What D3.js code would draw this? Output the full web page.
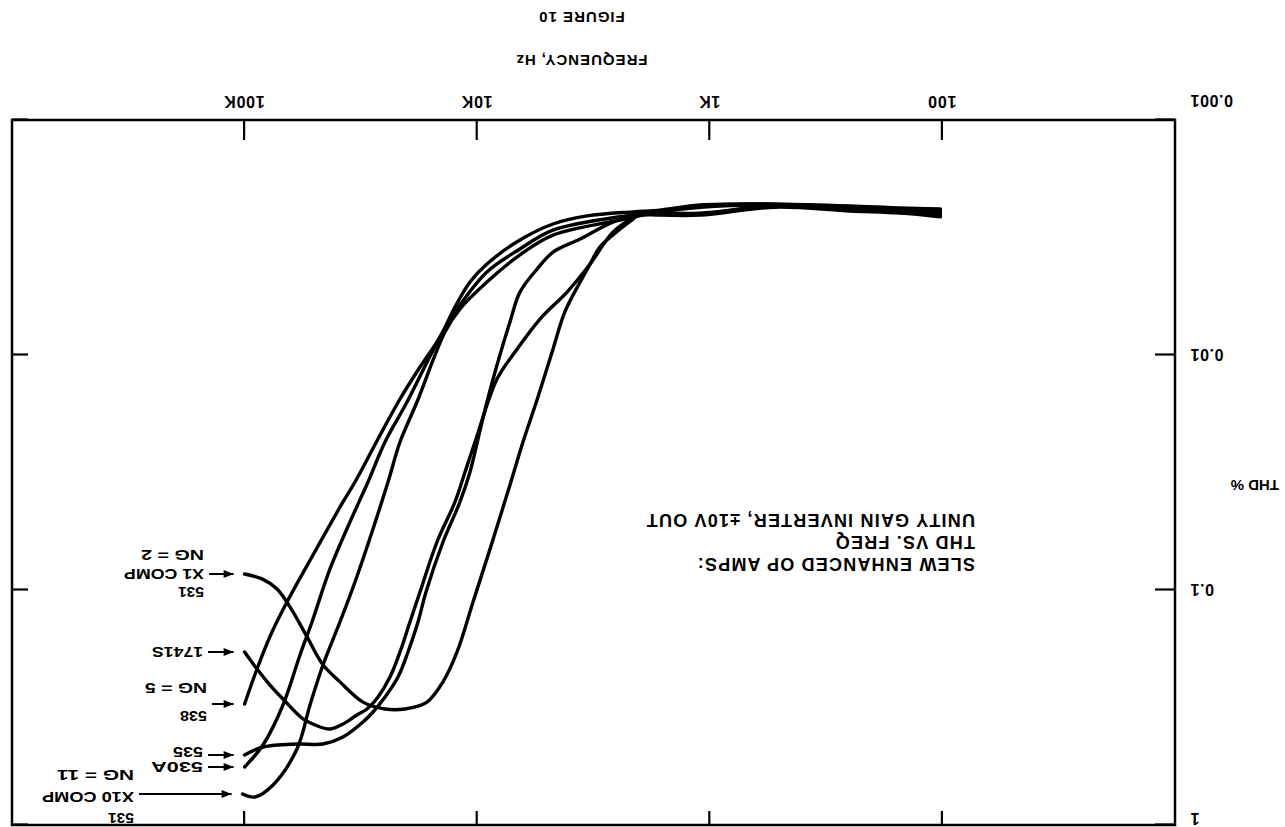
<!DOCTYPE html>
<html>
<head>
<meta charset="utf-8">
<script src="https://cdn.jsdelivr.net/npm/d3@7"></script>
<style>
  body { margin: 0; background: #fff; }
  svg { display: block; font-family: "Liberation Sans", Arial, sans-serif; font-weight: bold; }
</style>
</head>
<body>
<svg id="chart" width="1285" height="827"></svg>
<script>
/** ------------- DATA (frequency in Hz, THD in %) -------------- */

const xTickValues = [100, 1000, 10000, 100000];
const xTickLabels = ["100", "1K", "10K", "100K"];
const yTickValues = [1, 0.1, 0.01, 0.001];
const yTickLabels = ["1", "0.1", "0.01", "0.001"];

const titleLines = ["SLEW ENHANCED OP AMPS:", "THD VS. FREQ", "UNITY GAIN INVERTER, \u00B110V OUT"];

// 531 X1 COMP, NG = 2
const amp531x1 = [
    [102, 0.0025], [152, 0.00244], [250, 0.00239], [524, 0.00232], [1100, 0.00249], [1640, 0.00249],
    [2000, 0.00251], [2140, 0.00264], [2430, 0.00291], [2970, 0.00347], [3270, 0.0041], [3610, 0.00489],
    [4200, 0.00656], [4720, 0.00942], [5480, 0.0151], [6350, 0.0234], [7230, 0.0357], [8810, 0.067],
    [10420, 0.1125], [12220, 0.184], [14030, 0.246], [16440, 0.3], [20440, 0.321], [24910, 0.321],
    [30970, 0.3], [38900, 0.246], [46030, 0.208], [53950, 0.158], [63830, 0.118], [72560, 0.099],
    [84140, 0.0897], [100000, 0.0855]
];

// 1741S
const amp1741s = [
    [102, 0.00258], [152, 0.00249], [250, 0.00244], [524, 0.00235], [1100, 0.00254], [1640, 0.00254],
    [2000, 0.00254], [2140, 0.00261], [2610, 0.003], [3270, 0.0041], [4110, 0.0054], [5370, 0.00703],
    [6880, 0.00971], [8220, 0.01265], [10120, 0.02277], [11280, 0.03147], [12460, 0.04221], [14890, 0.06248],
    [17620, 0.102], [19460, 0.1368], [21470, 0.1836], [23710, 0.2346], [26700, 0.2853], [29770, 0.3209],
    [32870, 0.3402], [37760, 0.3717], [42950, 0.3904], [49820, 0.3754], [56100, 0.3539], [68380, 0.2909],
    [77770, 0.2537], [88450, 0.2169], [100000, 0.1836]
];

// 538, NG = 5
const amp538 = [
    [102, 0.00239], [152, 0.00237], [250, 0.00232], [524, 0.00228], [1100, 0.0023], [1640, 0.00242],
    [2140, 0.00246], [3370, 0.00256], [4720, 0.00277], [6550, 0.00324], [9080, 0.0041], [10740, 0.00489],
    [12460, 0.00625], [14450, 0.00839], [17620, 0.01125], [21470, 0.01539], [26700, 0.02277], [33530, 0.03471],
    [37760, 0.04221], [50810, 0.07098], [65720, 0.1125], [76250, 0.151], [88450, 0.2169], [100000, 0.3055]
];

// 535
const amp535 = [
    [102, 0.00254], [152, 0.00246], [250, 0.00242], [524, 0.00232], [1100, 0.00251], [1640, 0.00251],
    [2060, 0.00254], [2610, 0.00272], [3610, 0.00321], [4720, 0.00365], [5530, 0.00431], [6550, 0.0054],
    [7230, 0.00724], [8220, 0.01103], [9080, 0.01585], [9920, 0.02277], [10740, 0.03147], [11860, 0.04221],
    [14030, 0.06248], [16600, 0.102], [17970, 0.1368], [19840, 0.1836], [21900, 0.2346], [24910, 0.2853],
    [28050, 0.3305], [30970, 0.3645], [37760, 0.4221], [46030, 0.4521], [59530, 0.4521], [83350, 0.4656],
    [100000, 0.5037]
];

// 530A, NG = 11
const amp530a = [
    [102, 0.00243], [152, 0.00239], [250, 0.00235], [524, 0.00228], [1100, 0.00232], [1640, 0.00244],
    [2200, 0.00254], [4720, 0.00294], [6550, 0.00354], [9080, 0.00443], [11860, 0.00613], [14450, 0.00839],
    [20030, 0.01585], [24910, 0.02346], [29480, 0.03471], [35240, 0.05137], [42950, 0.08137], [51320, 0.1368],
    [57790, 0.1891], [68380, 0.3086], [83350, 0.4565], [100000, 0.5664]
];

// 531 X10 COMP, NG = 11
const amp531x10 = [
    [102, 0.00246], [152, 0.00242], [250, 0.00237], [524, 0.0023], [1100, 0.00235], [1640, 0.00246],
    [2320, 0.00264], [4720, 0.00309], [6550, 0.00375], [9080, 0.00489], [11860, 0.00637], [13760, 0.00798],
    [18150, 0.01585], [21470, 0.02346], [24180, 0.03471], [28330, 0.05664], [33530, 0.09247], [38900, 0.1368],
    [46030, 0.2085], [52340, 0.3086], [59530, 0.4748], [75500, 0.6756], [90220, 0.7602], [102000, 0.7381]
];

/** ------------- LABELS (text lines, offsets from the arrow) -------------- */
const curveLabels = [
    { data: amp531x1, lines: ["531", "X1 COMP", "NG = 2"], dy: [-18, 0, 19], widths: [26, 80, 63], tail: 1076 },
    { data: amp1741s, lines: ["1741S"], dy: [0], widths: [51], tail: 1077 },
    { data: amp538, lines: ["538", "NG = 5"], dy: [-12, 16], widths: [27, 62], tail: 1073 },
    { data: amp535, lines: ["535"], dy: [3], widths: [30], tail: 1077 },
    { data: amp530a, lines: ["530A"], dy: [0], widths: [52], tail: 1077 },
    { data: amp531x10, lines: ["531", "X10 COMP", "NG = 11"], dy: [-24, -3, 19], widths: [26, 92, 77], tail: 1146 }
];

/** ------------- CHART -------------- */

const svg = d3.select("#chart");
// the original page is scanned upside down: draw normally, then turn by 180 degrees
const root = svg.append("g").attr("transform", "rotate(180 642.5 413.5)");

const plotLeft = 110, plotRight = 1273, plotTop = 2, plotBottom = 707;

const x = d3.scaleLog().domain([10, 1e6]).range([plotLeft, plotRight]);
const y = d3.scaleLog().domain([1, 0.001]).range([plotTop, plotBottom]);

// frame
root.append("rect")
    .attr("x", plotLeft).attr("y", plotTop)
    .attr("width", plotRight - plotLeft).attr("height", plotBottom - plotTop)
    .attr("fill", "none").attr("stroke", "#000").attr("stroke-width", 2.5);

// bottom axis with labels, ticks pointing inward
const xAxis = root.append("g")
    .attr("transform", `translate(0,${plotBottom})`)
    .call(d3.axisBottom(x).tickValues(xTickValues)
        .tickFormat((d, i) => xTickLabels[i])
        .tickSize(-20).tickPadding(13));
xAxis.select(".domain").remove();
xAxis.selectAll("line").attr("stroke-width", 2.2);
xAxis.selectAll("text")
    .attr("font-size", 16).attr("font-family", "Liberation Sans, Arial, sans-serif")
    .attr("font-weight", "bold").attr("letter-spacing", 0.8).attr("fill", "#000");

// top ticks
const xAxisTop = root.append("g")
    .attr("transform", `translate(0,${plotTop})`)
    .call(d3.axisTop(x).tickValues(xTickValues).tickFormat("").tickSize(-14));
xAxisTop.select(".domain").remove();
xAxisTop.selectAll("line").attr("stroke-width", 2.2);

// left axis with labels
const yAxis = root.append("g")
    .attr("transform", `translate(${plotLeft},0)`)
    .call(d3.axisLeft(y).tickValues(yTickValues)
        .tickFormat((d, i) => yTickLabels[i])
        .tickSize(-20).tickPadding(15));
yAxis.select(".domain").remove();
yAxis.selectAll("line").attr("stroke-width", 2.2);
yAxis.selectAll("text")
    .attr("font-size", 16).attr("font-family", "Liberation Sans, Arial, sans-serif")
    .attr("font-weight", "bold").attr("letter-spacing", 0.6).attr("fill", "#000");
// the 0.001 label sits on the line of the frequency labels, the 1 just inside the page
yAxis.selectAll(".tick").filter((d) => d === 0.001).select("text").attr("dy", "1.55em");
yAxis.selectAll(".tick").filter((d) => d === 1).select("text").attr("dy", "0.75em");

// right ticks
const yAxisRight = root.append("g")
    .attr("transform", `translate(${plotRight},0)`)
    .call(d3.axisRight(y).tickValues(yTickValues).tickFormat("").tickSize(-16));
yAxisRight.select(".domain").remove();
yAxisRight.selectAll("line").attr("stroke-width", 2.2);

// axis titles
root.append("text")
    .attr("x", (x(100) + x(1e5)) / 2 + 12).attr("y", 772)
    .attr("text-anchor", "middle").attr("font-size", 15)
    .attr("letter-spacing", 1)
    .text("FREQUENCY, Hz");

root.append("text")
    .attr("x", (x(100) + x(1e5)) / 2 + 12).attr("y", 815)
    .attr("text-anchor", "middle").attr("font-size", 15)
    .attr("letter-spacing", 1)
    .text("FIGURE 10");

root.append("text")
    .attr("x", 6).attr("y", 347)
    .attr("font-size", 15)
    .text("THD %");

// title block inside the plot
root.append("g")
    .selectAll("text")
    .data(titleLines)
    .join("text")
    .attr("x", 310)
    .attr("y", (d, i) => 269 + i * 22)
    .attr("font-size", 18)
    .attr("letter-spacing", 1.2)
    .text((d) => d);

// curves
const line = d3.line()
    .x((d) => x(d[0]))
    .y((d) => y(d[1]))
    .curve(d3.curveCatmullRom.alpha(0.5));

root.append("g")
    .selectAll("path")
    .data([amp538, amp530a, amp531x10, amp531x1, amp535, amp1741s])
    .join("path")
    .attr("d", line)
    .attr("fill", "none")
    .attr("stroke", "#000")
    .attr("stroke-width", 3.4)
    .attr("stroke-linejoin", "round")
    .attr("stroke-linecap", "round");

// arrow head
svg.append("defs").append("marker")
    .attr("id", "arrow")
    .attr("viewBox", "0 0 10 8")
    .attr("refX", 10).attr("refY", 4)
    .attr("markerWidth", 11).attr("markerHeight", 8)
    .attr("markerUnits", "userSpaceOnUse")
    .attr("orient", "auto")
    .append("path")
    .attr("d", "M0,0L10,4L0,8Z")
    .attr("fill", "#000");

// labels with arrows pointing at the curve ends
const lab = root.append("g")
    .selectAll("g")
    .data(curveLabels)
    .join("g");

lab.append("line")
    .attr("x1", (d) => d.tail)
    .attr("x2", (d) => x(d.data[d.data.length - 1][0]) + 11)
    .attr("y1", (d) => y(d.data[d.data.length - 1][1]))
    .attr("y2", (d) => y(d.data[d.data.length - 1][1]))
    .attr("stroke", "#000")
    .attr("stroke-width", 2)
    .attr("marker-end", "url(#arrow)");

lab.each(function (d) {
    const g = d3.select(this);
    const ay = y(d.data[d.data.length - 1][1]);
    d.lines.forEach((t, i) => {
        g.append("text")
            .attr("x", d.tail + 5)
            .attr("y", ay + d.dy[i])
            .attr("dy", "0.36em")
            .attr("font-size", 15)
            .attr("textLength", d.widths[i])
            .attr("lengthAdjust", "spacingAndGlyphs")
            .text(t);
    });
});
</script>
</body>
</html>
